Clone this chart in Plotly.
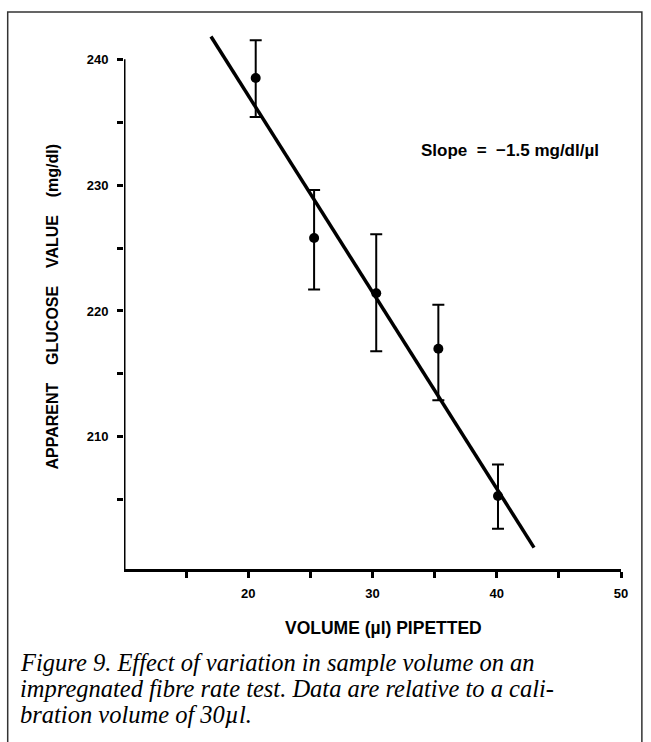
import plotly.graph_objects as go

# ---- data ----
vol = [20.6, 25.3, 30.3, 35.3, 40.1]
glucose = [238.5, 225.8, 221.4, 217.0, 205.3]
err_plus = [3.0, 3.8, 4.7, 3.5, 2.5]
err_minus = [3.1, 4.1, 4.6, 4.1, 2.6]
fit_x = [17, 43]
fit_y = [241.8, 201.2]

x_tickvals = [15, 20, 25, 30, 35, 40, 45, 50]
x_ticktext = ["", "20", "", "30", "", "40", "", "50"]
y_tickvals = [205, 210, 215, 220, 225, 230, 235, 240]
y_ticktext = ["", "210", "", "220", "", "230", "", "240"]

sans = "Liberation Sans, Arial, Helvetica, sans-serif"
serif = "Liberation Serif, Times New Roman, serif"
sp = "\u00a0" * 4
sp2 = "\u00a0" * 2

fig = go.Figure()
fig.add_trace(go.Scatter(x=fit_x, y=fit_y, mode="lines",
                         line=dict(color="black", width=3.5), showlegend=False))
fig.add_trace(go.Scatter(
    x=vol, y=glucose, mode="markers",
    marker=dict(color="black", size=10),
    error_y=dict(type="data", symmetric=False, array=err_plus, arrayminus=err_minus,
                 color="black", thickness=2, width=6),
    showlegend=False))

# y axis line (stops at 240, like the original)
fig.add_shape(type="line", xref="x", yref="y", x0=10, x1=10, y0=199.5, y1=240,
              line=dict(color="black", width=3))
# outer frame
fig.add_shape(type="rect", xref="paper", yref="paper", x0=-0.234, x1=1.042,
              y0=-0.34, y1=1.041, line=dict(color="#333", width=1.5))

fig.update_layout(
    width=651, height=742,
    margin=dict(l=124, r=30, t=34, b=173),
    plot_bgcolor="white", paper_bgcolor="white",
    hovermode=False,
    xaxis=dict(range=[10, 50], showgrid=False, zeroline=False,
               showline=True, linecolor="black", linewidth=3,
               ticks="outside", ticklen=6, tickwidth=3, tickcolor="black",
               tickvals=x_tickvals, ticktext=x_ticktext, ticklabelstandoff=4,
               tickfont=dict(family=sans, size=13, color="black", weight="bold")),
    yaxis=dict(range=[199.5, 242], showgrid=False, zeroline=False, showline=False,
               ticks="outside", ticklen=6, tickwidth=3, tickcolor="black",
               tickvals=y_tickvals, ticktext=y_ticktext, ticklabelstandoff=6,
               tickfont=dict(family=sans, size=13, color="black", weight="bold")),
)

fig.add_annotation(xref="paper", yref="paper", x=0.522, y=-0.111,
                   text="VOLUME (\u00b5l) PIPETTED", showarrow=False,
                   xanchor="center", yanchor="middle",
                   font=dict(family=sans, size=17.5, color="black", weight="bold"))
fig.add_annotation(xref="paper", yref="paper", x=-0.1435, y=0.49,
                   text="APPARENT" + sp + "GLUCOSE" + sp + "VALUE" + sp + "(mg/dl)",
                   showarrow=False, textangle=-90, xanchor="center", yanchor="middle",
                   font=dict(family=sans, size=16, color="black", weight="bold"))
fig.add_annotation(xref="paper", yref="paper", x=0.7765, y=0.783,
                   text="Slope" + sp2 + "=" + sp2 + "\u22121.5 mg/dl/\u00b5l", showarrow=False,
                   xanchor="center", yanchor="middle",
                   font=dict(family=sans, size=17, color="black", weight="bold"))

caption_lines = [
    "Figure 9. Effect of variation in sample volume on an",
    "impregnated fibre rate test. Data are relative to a cali-",
    "bration volume of 30\u00b5l.",
]
caption_y = [-0.174, -0.223, -0.272]
for line, yy in zip(caption_lines, caption_y):
    fig.add_annotation(xref="paper", yref="paper", x=-0.214, y=yy, text=line,
                       showarrow=False, xanchor="left", yanchor="middle",
                       font=dict(family=serif, size=24.5, color="black", style="italic"))

fig.write_html("out.html", config={"displayModeBar": False},
               post_script="document.body.style.margin='0';document.body.style.padding='0';")
